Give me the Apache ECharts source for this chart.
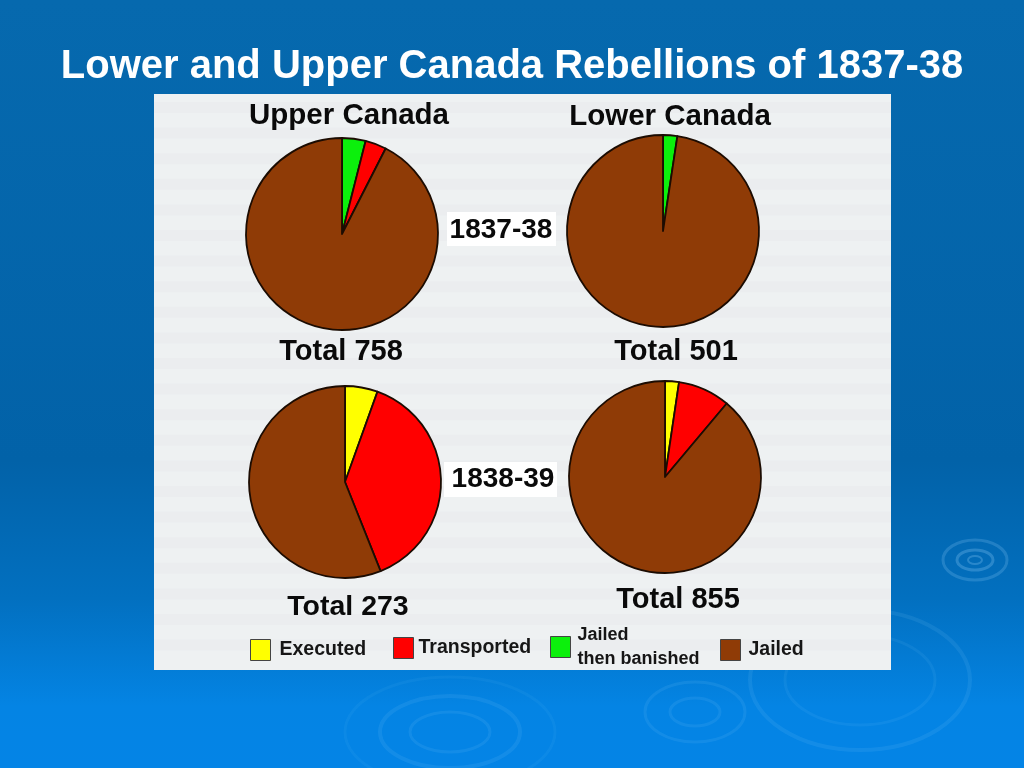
<!DOCTYPE html>
<html><head><meta charset="utf-8">
<style>html,body{margin:0;padding:0;background:#0468ac}#c{width:1024px;height:768px}</style>
<script src="https://cdn.jsdelivr.net/npm/echarts@6/dist/echarts.min.js"></script>
</head><body><div id="c"></div>
<script>
const chartTitle = 'Lower and Upper Canada Rebellions of 1837-38';
const categories = ['Executed', 'Jailed then banished', 'Transported', 'Jailed'];
const colors = ['#ffff00', '#0cf00c', '#ff0000', '#8f3b06'];
const upper1837 = [0, 30, 27, 701];
const lower1837 = [0, 12, 0, 489];
const upper1838 = [15, 0, 105, 153];
const lower1838 = [20, 0, 75, 760];
const pieTitles = ['Upper Canada', 'Lower Canada'];
const periods = ['1837-38', '1838-39'];
const totals = ['Total 758', 'Total 501', 'Total 273', 'Total 855'];

const F = '"Liberation Sans", Arial, sans-serif';
const text = (x, y, t, size, fill) => ({type:'text', x, y, silent:true, z:20,
  style:{text:t, fill:fill||'#0a0a0a', font:'bold '+size+'px '+F, textAlign:'center', textVerticalAlign:'middle'}});
const ring = (cx, cy, rx, ry, op, lw) => ({type:'ellipse', silent:true, z:1,
  shape:{cx, cy, rx, ry}, style:{fill:'none', stroke:'#9fd8ff', opacity:op, lineWidth:lw||2}});

function pie(values, cx, cy) {
  return {type:'pie', center:[cx, cy], radius:[0, 96], startAngle:90, clockwise:true,
    animation:false, silent:true, label:{show:false}, labelLine:{show:false}, z:10,
    itemStyle:{borderColor:'#1c0c02', borderWidth:1.8},
    data:categories.map((name,i)=>({name, value:values[i], itemStyle:{color:colors[i]}})).filter(d=>d.value>0)};
}
function legendItem(name, left, top, size, textPadding, label, lh) {
  return {left, top, padding:0, orient:'horizontal', data:[name], itemWidth:20, itemHeight:21, itemGap:8,
    selectedMode:false, icon:'rect', formatter:()=>label||name,
    textStyle:{fontFamily:F, fontWeight:'bold', fontSize:size, color:'#161616', lineHeight:lh||22, padding:textPadding},
    itemStyle:{borderColor:'#444', borderWidth:1}};
}
const strips = [];
for (let y = 102; y < 660; y += 25.6) {
  strips.push({type:'rect', silent:true, z:2, shape:{x:154,y,width:737,height:11}, style:{fill:'#e3e6e8', opacity:.3}});
}
const chart = echarts.init(document.getElementById('c'), null, {renderer:'canvas'});
chart.setOption({
  animation:false,
  color:colors,
  legend:[
    legendItem('Executed', 250, 639, 19.5, [0,0,0,4]),
    legendItem('Transported', 393, 637, 19.5, [0,0,0,0]),
    legendItem('Jailed then banished', 550, 619, 18, [0,0,8,2], 'Jailed\nthen banished', 24),
    legendItem('Jailed', 720, 639, 19.5, [0,0,0,3])
  ],
  series:[pie(upper1837,342,234), pie(lower1837,663,231), pie(upper1838,345,482), pie(lower1838,665,477)],
  graphic:[
    {type:'rect', silent:true, z:0, shape:{x:0,y:0,width:1024,height:768},
      style:{fill:new echarts.graphic.LinearGradient(0,0,0,1,[{offset:0,color:'#0669ae'},{offset:0.6,color:'#0262a8'},{offset:0.78,color:'#0270c0'},{offset:0.92,color:'#0484e4'},{offset:1,color:'#0484e6'}])}},
    ring(975,560,32,20,.2,3), ring(975,560,18,10,.25,3), ring(975,560,7,4,.25,2),
    ring(860,680,110,70,.1,4), ring(860,680,75,45,.08,3),
    ring(450,732,70,36,.1,4), ring(450,732,40,20,.1,3), ring(450,732,105,55,.06,3),
    ring(695,712,50,30,.1,3), ring(695,712,25,14,.1,3),
    {type:'rect', silent:true, z:2, shape:{x:154,y:94,width:737,height:576}, style:{fill:'#eef1f2'}},
    ...strips,
    {type:'rect', silent:true, z:3, shape:{x:447,y:212,width:109,height:34}, style:{fill:'#ffffff'}},
    {type:'rect', silent:true, z:3, shape:{x:444,y:462,width:113,height:35}, style:{fill:'#ffffff'}},
    text(512,67,chartTitle,40,'#ffffff'),
    text(349,116,pieTitles[0],29.5),
    text(670,117,pieTitles[1],29.5),
    text(501,230,periods[0],28),
    text(503,479,periods[1],28),
    text(341,352,totals[0],29),
    text(676,352,totals[1],29),
    text(348,607,totals[2],28.5),
    text(678,600,totals[3],29)
  ]
});
</script></body></html>
